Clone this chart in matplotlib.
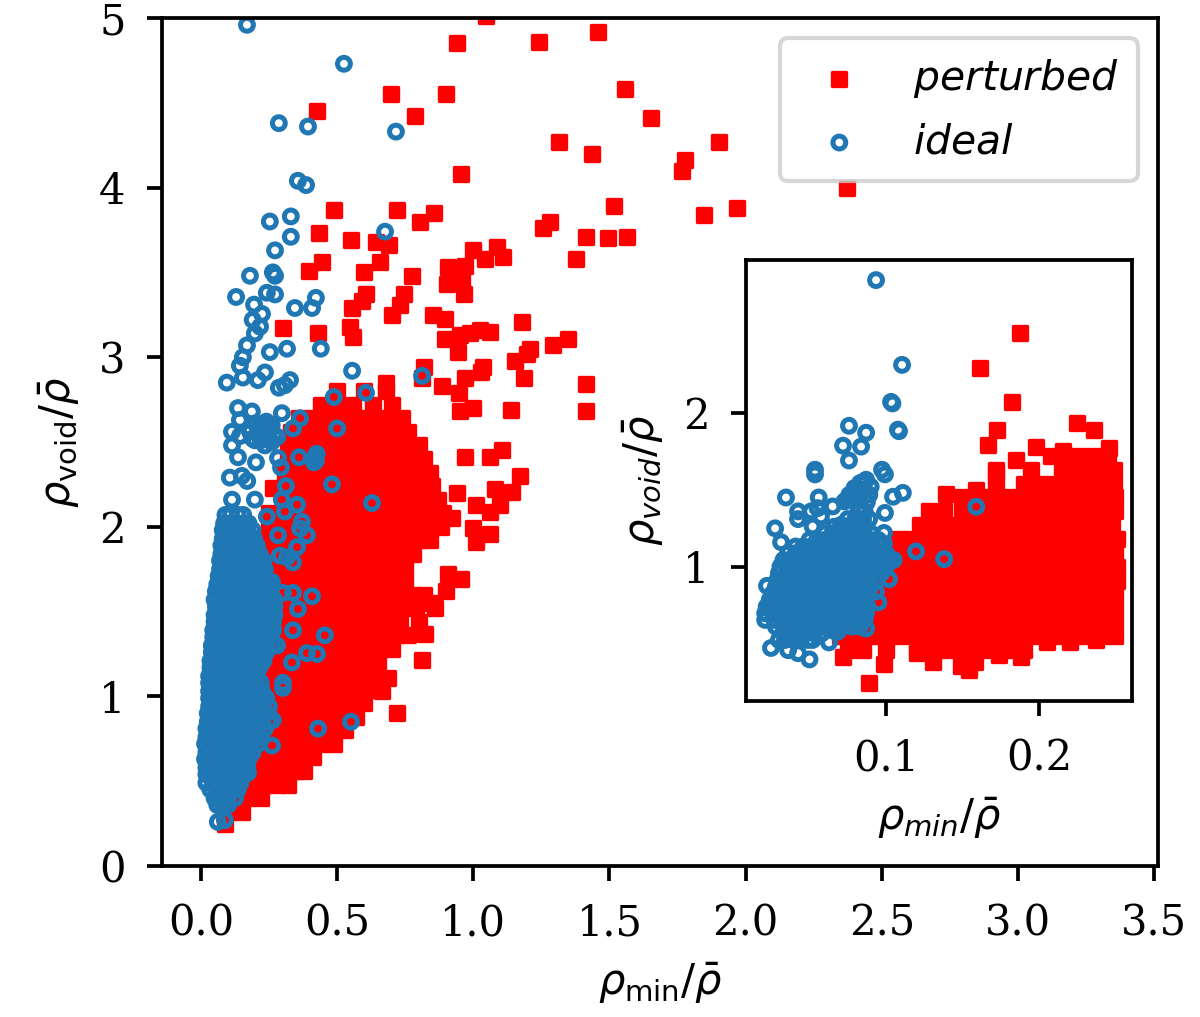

# Void density against minimum density, perturbed and ideal samples, with inset
import matplotlib
matplotlib.use('Agg')
import matplotlib.pyplot as plt

# Main panel, isolated perturbed points
main_red_x = [0.426, 0.698, 0.786, 0.90, 0.94, 1.047, 1.241, 1.458, 1.557, 1.653, 1.315, 1.436, 1.902, 1.777, 1.766,
              0.955, 2.372, 1.847, 1.968, 1.517, 1.495, 1.564, 1.414, 1.282, 1.256, 1.377, 0.488, 0.72, 0.856, 0.804,
              0.433, 0.551, 0.643, 0.69, 0.657, 0.775, 0.444, 0.397, 0.60, 0.606, 0.591, 0.555, 0.746, 0.731, 0.70,
              0.301, 0.43, 0.547, 0.558, 1.0, 1.087, 0.97, 0.907, 1.043, 1.109, 0.903, 0.959, 0.966, 0.852, 0.896,
              1.179, 1.348, 1.293, 1.208, 1.197, 1.153, 1.186, 1.414, 1.414, 1.138, 1.025, 1.061, 0.988, 0.95, 0.896,
              0.944, 0.819, 0.812, 0.885, 1.036, 1.028, 0.97, 0.947, 0.679, 0.951, 1.0, 1.105, 1.061, 0.97, 1.171,
              1.08, 1.142, 1.098, 1.01, 1.061, 1.0, 1.06, 1.01, 0.907, 0.955, 0.90, 0.848, 0.812, 0.823, 0.72, 0.687,
              0.665, 0.264, 0.94, 0.92]
main_red_y = [4.45, 4.55, 4.42, 4.55, 4.85, 5.01, 4.86, 4.92, 4.58, 4.41, 4.27, 4.20, 4.27, 4.16, 4.10,
              4.08, 4.00, 3.84, 3.88, 3.89, 3.70, 3.71, 3.71, 3.80, 3.76, 3.58, 3.87, 3.87, 3.85, 3.80,
              3.73, 3.69, 3.68, 3.66, 3.56, 3.48, 3.56, 3.51, 3.50, 3.37, 3.33, 3.29, 3.37, 3.31, 3.25,
              3.17, 3.14, 3.18, 3.12, 3.63, 3.65, 3.54, 3.53, 3.58, 3.59, 3.43, 3.45, 3.37, 3.25, 3.225,
              3.21, 3.11, 3.07, 3.05, 3.02, 2.98, 2.88, 2.84, 2.68, 2.69, 3.16, 3.15, 3.14, 3.13, 3.11,
              3.03, 2.94, 2.88, 2.83, 2.94, 2.91, 2.88, 2.79, 2.85, 2.68, 2.70, 2.45, 2.41, 2.41, 2.30,
              2.22, 2.205, 2.13, 2.13, 2.09, 1.99, 1.96, 1.91, 1.72, 1.69, 1.62, 1.55, 1.215, 1.37, 0.90, 1.11,
              1.03, 2.23, 2.20, 2.05]

# Main panel, solid perturbed region read row by row
main_red_rows_y = [0.25, 0.32, 0.40, 0.48, 0.56, 0.64, 0.72, 0.80, 0.88, 0.96, 1.04, 1.12, 1.20, 1.28, 1.36, 1.44,
                   1.52, 1.60, 1.68, 1.76, 1.84, 1.92, 2.00, 2.08, 2.16, 2.24, 2.32, 2.40, 2.48, 2.56, 2.64, 2.72, 2.80]
main_red_rows_x = [
    [0.09],
    [0.10, 0.15],
    [0.11, 0.17, 0.22],
    [0.12, 0.18, 0.23, 0.28, 0.32],
    [0.15, 0.20, 0.25, 0.30, 0.35, 0.38],
    [0.17, 0.22, 0.27, 0.32, 0.37, 0.41],
    [0.18, 0.24, 0.29, 0.34, 0.39, 0.44, 0.49],
    [0.20, 0.25, 0.31, 0.36, 0.41, 0.46, 0.50, 0.53],
    [0.20, 0.26, 0.31, 0.37, 0.42, 0.47, 0.52, 0.57],
    [0.21, 0.26, 0.32, 0.37, 0.43, 0.48, 0.54, 0.60],
    [0.21, 0.27, 0.32, 0.38, 0.43, 0.49, 0.55, 0.61],
    [0.22, 0.27, 0.33, 0.38, 0.44, 0.49, 0.55, 0.60, 0.63],
    [0.22, 0.28, 0.33, 0.39, 0.44, 0.50, 0.55, 0.61, 0.65],
    [0.22, 0.28, 0.34, 0.39, 0.45, 0.50, 0.56, 0.61, 0.66, 0.70],
    [0.23, 0.28, 0.34, 0.40, 0.45, 0.51, 0.56, 0.62, 0.67, 0.72, 0.76],
    [0.23, 0.29, 0.34, 0.40, 0.45, 0.51, 0.56, 0.62, 0.67, 0.73, 0.80],
    [0.23, 0.29, 0.34, 0.40, 0.46, 0.51, 0.57, 0.62, 0.68, 0.73, 0.79, 0.86],
    [0.23, 0.29, 0.35, 0.40, 0.46, 0.51, 0.57, 0.62, 0.68, 0.73, 0.78, 0.82],
    [0.24, 0.29, 0.35, 0.40, 0.46, 0.51, 0.57, 0.62, 0.68, 0.72, 0.75],
    [0.24, 0.29, 0.35, 0.41, 0.46, 0.52, 0.57, 0.63, 0.68, 0.72, 0.75],
    [0.24, 0.30, 0.35, 0.41, 0.46, 0.52, 0.57, 0.63, 0.68, 0.74, 0.78],
    [0.24, 0.30, 0.36, 0.41, 0.47, 0.52, 0.58, 0.63, 0.69, 0.74, 0.80, 0.84],
    [0.25, 0.30, 0.36, 0.41, 0.47, 0.52, 0.58, 0.63, 0.69, 0.74, 0.80, 0.85, 0.88],
    [0.25, 0.30, 0.36, 0.42, 0.47, 0.53, 0.58, 0.64, 0.69, 0.75, 0.80, 0.85, 0.89],
    [0.30, 0.36, 0.42, 0.47, 0.53, 0.58, 0.64, 0.69, 0.75, 0.80, 0.84, 0.87],
    [0.31, 0.36, 0.42, 0.47, 0.53, 0.58, 0.64, 0.69, 0.75, 0.80, 0.85],
    [0.31, 0.37, 0.42, 0.48, 0.53, 0.59, 0.64, 0.70, 0.75, 0.80, 0.84],
    [0.32, 0.37, 0.43, 0.48, 0.54, 0.59, 0.65, 0.70, 0.76, 0.82],
    [0.32, 0.38, 0.43, 0.49, 0.54, 0.60, 0.65, 0.71, 0.76, 0.80],
    [0.33, 0.38, 0.44, 0.49, 0.55, 0.60, 0.66, 0.71, 0.76],
    [0.36, 0.41, 0.47, 0.52, 0.58, 0.63, 0.69, 0.74],
    [0.44, 0.50, 0.56, 0.63, 0.70],
    [0.50, 0.60, 0.68],
]

# Main panel, isolated ideal points
main_blue_x = [0.169, 0.525, 0.286, 0.393, 0.716, 0.356, 0.386, 0.253, 0.33, 0.33, 0.676, 0.272, 0.18, 0.264, 0.272,
               0.242, 0.272, 0.129, 0.422, 0.408, 0.345, 0.195, 0.224, 0.19, 0.217, 0.198, 0.169, 0.154, 0.253, 0.316,
               0.44, 0.555, 0.143, 0.095, 0.154, 0.209, 0.235, 0.286, 0.327, 0.308, 0.812, 0.606, 0.488, 0.136, 0.187,
               0.143, 0.114, 0.143, 0.114, 0.217, 0.253, 0.198, 0.235, 0.297, 0.364, 0.338, 0.5, 0.36, 0.419, 0.422,
               0.415, 0.425, 0.481, 0.628, 0.106, 0.136, 0.202, 0.283, 0.294, 0.312, 0.114, 0.198, 0.242, 0.297, 0.353,
               0.308, 0.371, 0.364, 0.389, 0.283, 0.353, 0.29, 0.338, 0.316, 0.261, 0.338, 0.408, 0.356, 0.301, 0.338,
               0.253, 0.455, 0.389, 0.426, 0.334, 0.279, 0.301, 0.301, 0.43, 0.551, 0.261, 0.264, 0.173, 0.062, 0.088,
               0.20, 0.22, 0.24, 0.26, 0.18, 0.21, 0.23, 0.25, 0.27, 0.19, 0.22, 0.24, 0.26, 0.28, 0.15, 0.17]
main_blue_y = [4.96, 4.73, 4.38, 4.36, 4.33, 4.04, 4.015, 3.80, 3.83, 3.71, 3.74, 3.63, 3.48, 3.50, 3.48,
               3.38, 3.37, 3.355, 3.35, 3.29, 3.29, 3.31, 3.255, 3.22, 3.18, 3.14, 3.07, 3.00, 3.03, 3.05,
               3.05, 2.92, 2.95, 2.85, 2.88, 2.865, 2.91, 2.82, 2.865, 2.835, 2.89, 2.79, 2.765, 2.70, 2.68,
               2.63, 2.56, 2.535, 2.48, 2.60, 2.57, 2.51, 2.48, 2.67, 2.64, 2.58, 2.58, 2.41, 2.41, 2.39,
               2.38, 2.43, 2.25, 2.14, 2.29, 2.41, 2.38, 2.405, 2.35, 2.24, 2.16, 2.16, 2.06, 2.16, 2.13,
               2.09, 2.03, 1.99, 1.95, 1.95, 1.88, 1.83, 1.79, 1.82, 1.675, 1.61, 1.59, 1.515, 1.61, 1.39,
               1.41, 1.36, 1.255, 1.25, 1.20, 1.30, 1.08, 1.05, 0.81, 0.85, 0.71, 0.86, 0.55, 0.26, 0.27,
               2.61, 2.60, 2.62, 2.60, 2.56, 2.56, 2.55, 2.56, 2.54, 2.52, 2.51, 2.52, 2.50, 2.53, 2.30, 2.27]

# Main panel, solid ideal region read row by row
main_blue_rows_y = [0.36, 0.40, 0.45, 0.49, 0.54, 0.58, 0.63, 0.67, 0.72, 0.76, 0.81, 0.85, 0.90, 0.94, 0.99, 1.03,
                    1.08, 1.12, 1.17, 1.21, 1.26, 1.30, 1.35, 1.39, 1.44, 1.48, 1.53, 1.57, 1.62, 1.66, 1.71, 1.75,
                    1.80, 1.84, 1.89, 1.93, 1.98, 2.02, 2.07]
main_blue_rows_x = [
    [0.06, 0.08, 0.10],
    [0.05, 0.075, 0.10, 0.125],
    [0.035, 0.06, 0.085, 0.11, 0.135],
    [0.02, 0.045, 0.07, 0.095, 0.12, 0.145],
    [0.02, 0.035, 0.06, 0.085, 0.11, 0.135, 0.16],
    [0.02, 0.045, 0.07, 0.095, 0.12, 0.15, 0.17],
    [0.015, 0.035, 0.06, 0.085, 0.11, 0.135, 0.16, 0.175],
    [0.02, 0.045, 0.07, 0.095, 0.12, 0.145, 0.17, 0.19],
    [0.015, 0.035, 0.06, 0.085, 0.11, 0.135, 0.16, 0.185, 0.21],
    [0.02, 0.045, 0.07, 0.095, 0.12, 0.145, 0.17, 0.195, 0.22],
    [0.02, 0.035, 0.06, 0.085, 0.11, 0.135, 0.16, 0.185, 0.21, 0.235],
    [0.025, 0.05, 0.075, 0.10, 0.125, 0.15, 0.175, 0.20, 0.225, 0.25],
    [0.025, 0.04, 0.065, 0.09, 0.115, 0.14, 0.165, 0.19, 0.215, 0.24],
    [0.03, 0.05, 0.075, 0.10, 0.125, 0.15, 0.175, 0.20, 0.225, 0.25],
    [0.03, 0.045, 0.07, 0.095, 0.12, 0.145, 0.17, 0.195, 0.22, 0.24],
    [0.03, 0.055, 0.08, 0.105, 0.13, 0.155, 0.18, 0.205, 0.225],
    [0.03, 0.05, 0.075, 0.10, 0.125, 0.15, 0.175, 0.20, 0.22],
    [0.03, 0.055, 0.08, 0.105, 0.13, 0.155, 0.18, 0.205],
    [0.035, 0.05, 0.075, 0.10, 0.125, 0.15, 0.175, 0.20, 0.215],
    [0.035, 0.06, 0.085, 0.11, 0.135, 0.16, 0.185, 0.21, 0.23],
    [0.04, 0.055, 0.08, 0.105, 0.13, 0.155, 0.18, 0.205, 0.23, 0.24],
    [0.04, 0.065, 0.09, 0.115, 0.14, 0.165, 0.19, 0.215, 0.24, 0.26],
    [0.045, 0.06, 0.085, 0.11, 0.135, 0.16, 0.185, 0.21, 0.235, 0.255],
    [0.045, 0.07, 0.095, 0.12, 0.145, 0.17, 0.195, 0.22, 0.245, 0.265],
    [0.05, 0.065, 0.09, 0.115, 0.14, 0.165, 0.19, 0.215, 0.24, 0.265],
    [0.05, 0.075, 0.10, 0.125, 0.15, 0.175, 0.20, 0.225, 0.25, 0.27],
    [0.055, 0.07, 0.095, 0.12, 0.145, 0.17, 0.195, 0.22, 0.245, 0.27],
    [0.05, 0.08, 0.105, 0.13, 0.155, 0.18, 0.205, 0.23, 0.255, 0.27],
    [0.055, 0.075, 0.10, 0.125, 0.15, 0.175, 0.20, 0.225, 0.25],
    [0.06, 0.085, 0.11, 0.135, 0.16, 0.185, 0.21, 0.235, 0.25],
    [0.065, 0.08, 0.105, 0.13, 0.155, 0.18, 0.205, 0.23],
    [0.07, 0.09, 0.115, 0.14, 0.165, 0.19, 0.215, 0.235],
    [0.07, 0.085, 0.11, 0.135, 0.16, 0.185, 0.21, 0.23],
    [0.075, 0.095, 0.12, 0.145, 0.17, 0.195, 0.215],
    [0.075, 0.09, 0.115, 0.14, 0.165, 0.19, 0.205],
    [0.08, 0.10, 0.125, 0.15, 0.175, 0.195],
    [0.08, 0.095, 0.12, 0.145, 0.17, 0.19],
    [0.085, 0.105, 0.13, 0.155, 0.175],
    [0.09, 0.11, 0.135, 0.155],
]

# Inset, isolated perturbed points
inset_red_x = [0.089, 0.099, 0.072, 0.12, 0.131, 0.149, 0.154, 0.158, 0.174, 0.188, 0.205, 0.22, 0.237, 0.1876,
               0.1614, 0.1824, 0.1725, 0.1667, 0.2248, 0.236, 0.2457, 0.216, 0.198, 0.185, 0.172, 0.159, 0.139]
inset_red_y = [0.25, 0.37, 0.415, 0.44, 0.38, 0.36, 0.33, 0.38, 0.43, 0.415, 0.51, 0.51, 0.525, 2.52,
               2.29, 2.07, 1.89, 1.79, 1.93, 1.89, 1.77, 1.75, 1.78, 1.69, 1.61, 1.50, 1.47]

# Inset, solid perturbed region read row by row
inset_red_rows_y = [0.46, 0.55, 0.64, 0.73, 0.82, 0.91, 1.00, 1.09, 1.18, 1.27, 1.36, 1.45, 1.54, 1.63, 1.72]
inset_red_rows_x = [
    [0.075, 0.085, 0.10, 0.12, 0.13, 0.14, 0.15, 0.16, 0.17, 0.18, 0.19],
    [0.07, 0.079, 0.088, 0.097, 0.106, 0.115, 0.124, 0.133, 0.142, 0.151, 0.16, 0.169, 0.178, 0.187, 0.196, 0.205, 0.214, 0.223, 0.232, 0.241, 0.25],
    [0.07, 0.079, 0.088, 0.097, 0.106, 0.115, 0.124, 0.133, 0.142, 0.151, 0.16, 0.169, 0.178, 0.187, 0.196, 0.205, 0.214, 0.223, 0.232, 0.241, 0.25],
    [0.075, 0.084, 0.093, 0.102, 0.111, 0.12, 0.129, 0.138, 0.147, 0.156, 0.165, 0.174, 0.183, 0.192, 0.201, 0.21, 0.219, 0.228, 0.237, 0.246, 0.25],
    [0.08, 0.089, 0.098, 0.107, 0.116, 0.125, 0.134, 0.143, 0.152, 0.161, 0.17, 0.179, 0.188, 0.197, 0.206, 0.215, 0.224, 0.233, 0.242, 0.25],
    [0.085, 0.094, 0.103, 0.112, 0.121, 0.13, 0.139, 0.148, 0.157, 0.166, 0.175, 0.184, 0.193, 0.202, 0.211, 0.22, 0.229, 0.238, 0.247, 0.251],
    [0.09, 0.099, 0.108, 0.117, 0.126, 0.135, 0.144, 0.153, 0.162, 0.171, 0.18, 0.189, 0.198, 0.207, 0.216, 0.225, 0.234, 0.243, 0.251],
    [0.105, 0.114, 0.123, 0.132, 0.141, 0.15, 0.159, 0.168, 0.177, 0.186, 0.195, 0.204, 0.213, 0.222, 0.231, 0.24, 0.25],
    [0.107, 0.116, 0.125, 0.134, 0.143, 0.152, 0.161, 0.17, 0.179, 0.188, 0.197, 0.206, 0.215, 0.224, 0.233, 0.242, 0.251],
    [0.122, 0.131, 0.14, 0.149, 0.158, 0.167, 0.176, 0.185, 0.194, 0.203, 0.212, 0.221, 0.23, 0.239, 0.248],
    [0.128, 0.138, 0.15, 0.16, 0.169, 0.178, 0.187, 0.196, 0.205, 0.214, 0.223, 0.232, 0.241, 0.25],
    [0.15, 0.163, 0.172, 0.181, 0.19, 0.199, 0.208, 0.217, 0.226, 0.235, 0.244, 0.25],
    [0.172, 0.19, 0.199, 0.208, 0.217, 0.226, 0.235, 0.244, 0.249],
    [0.172, 0.195, 0.215, 0.224, 0.233, 0.242, 0.249],
    [0.208, 0.218, 0.227, 0.236, 0.245],
]

# Inset, isolated ideal points
inset_blue_x = [0.0935, 0.1105, 0.1033, 0.1042, 0.1078, 0.0758, 0.087, 0.0719, 0.0837, 0.0758, 0.0536, 0.0536, 0.0346,
                0.056, 0.0425, 0.0425, 0.0275, 0.0314, 0.0222, 0.0248, 0.036, 0.05, 0.0425, 0.03, 0.1085, 0.111,
                0.1046, 0.0974, 0.0993, 0.0993, 0.0987, 0.0987, 0.1196, 0.138, 0.159, 0.102, 0.105, 0.0935, 0.095,
                0.087, 0.0686, 0.0627, 0.083, 0.0794, 0.0761, 0.0728, 0.0651, 0.0553, 0.051, 0.0575, 0.052, 0.0706,
                0.0826, 0.0891, 0.0848, 0.087, 0.0848, 0.081, 0.078, 0.075, 0.0875, 0.090]
inset_blue_y = [2.86, 2.31, 2.07, 2.06, 1.89, 1.915, 1.87, 1.786, 1.78, 1.69, 1.63, 1.60, 1.45,
                1.45, 1.36, 1.31, 1.25, 1.16, 0.877, 0.474, 0.46, 0.40, 0.44, 0.526, 1.88, 1.48,
                1.455, 1.63, 1.60, 1.35, 1.22, 1.15, 1.10, 1.05, 1.39, 0.92, 1.045, 0.84, 0.77,
                0.60, 0.58, 0.51, 1.543, 1.511, 1.468, 1.424, 1.392, 1.381, 1.36, 1.327, 1.262, 1.273,
                1.381, 1.468, 1.50, 1.565, 1.55, 1.50, 1.47, 1.44, 1.42, 1.52]

# Inset, solid ideal region read row by row
inset_blue_rows_y = [1.36, 1.31, 1.26, 1.218, 1.175, 1.132, 1.088, 1.045, 1.002, 0.959, 0.916, 0.872, 0.829, 0.786,
                     0.742, 0.699, 0.656, 0.613, 0.569, 0.526]
inset_blue_rows_x = [
    [0.082, 0.086],
    [0.075, 0.080, 0.085, 0.089],
    [0.066, 0.071, 0.076, 0.081, 0.086],
    [0.060, 0.065, 0.070, 0.075, 0.080, 0.085, 0.090],
    [0.050, 0.055, 0.060, 0.065, 0.070, 0.075, 0.080, 0.085, 0.090, 0.095],
    [0.041, 0.046, 0.051, 0.056, 0.061, 0.066, 0.071, 0.076, 0.081, 0.086, 0.091, 0.097],
    [0.036, 0.041, 0.046, 0.051, 0.056, 0.061, 0.066, 0.071, 0.076, 0.081, 0.086, 0.091, 0.096, 0.100],
    [0.033, 0.038, 0.043, 0.048, 0.053, 0.058, 0.063, 0.068, 0.073, 0.078, 0.083, 0.088, 0.093, 0.098, 0.102],
    [0.031, 0.036, 0.041, 0.046, 0.051, 0.056, 0.061, 0.066, 0.071, 0.076, 0.081, 0.086, 0.091, 0.096, 0.100],
    [0.030, 0.035, 0.040, 0.045, 0.050, 0.055, 0.060, 0.065, 0.070, 0.075, 0.080, 0.085, 0.090, 0.095, 0.097],
    [0.029, 0.033, 0.038, 0.043, 0.048, 0.053, 0.058, 0.063, 0.068, 0.073, 0.078, 0.083, 0.088, 0.094],
    [0.028, 0.032, 0.037, 0.042, 0.047, 0.052, 0.057, 0.062, 0.067, 0.072, 0.077, 0.082, 0.087, 0.090],
    [0.026, 0.030, 0.034, 0.038, 0.043, 0.048, 0.053, 0.058, 0.063, 0.068, 0.073, 0.078, 0.083, 0.088],
    [0.024, 0.028, 0.032, 0.036, 0.040, 0.045, 0.050, 0.055, 0.060, 0.065, 0.070, 0.075, 0.080, 0.086],
    [0.022, 0.026, 0.030, 0.034, 0.038, 0.043, 0.048, 0.053, 0.058, 0.063, 0.068, 0.073, 0.078, 0.084, 0.088],
    [0.021, 0.026, 0.031, 0.036, 0.041, 0.046, 0.051, 0.056, 0.061, 0.066, 0.071, 0.076, 0.082, 0.087],
    [0.021, 0.027, 0.032, 0.037, 0.042, 0.047, 0.052, 0.057, 0.062, 0.067, 0.072, 0.078, 0.083, 0.086],
    [0.028, 0.033, 0.038, 0.043, 0.048, 0.053, 0.058, 0.063, 0.068, 0.072, 0.078, 0.083],
    [0.033, 0.038, 0.043, 0.048, 0.053, 0.058],
    [0.034, 0.039, 0.044, 0.049, 0.052],
]

# Ticks
main_xticks = [0.0, 0.5, 1.0, 1.5, 2.0, 2.5, 3.0, 3.5]
main_yticks = [0, 1, 2, 3, 4, 5]
inset_xticks = [0.1, 0.2]
inset_yticks = [1, 2]


def flatten(rows_y, rows_x):
    xs = [x for row in rows_x for x in row]
    ys = [y for y, row in zip(rows_y, rows_x) for _ in row]
    return xs, ys


plt.rcParams['font.family'] = 'DejaVu Serif'
plt.rcParams['font.size'] = 10
plt.rcParams['mathtext.fontset'] = 'dejavusans'
plt.rcParams['xtick.major.pad'] = 5.2
plt.rcParams['ytick.major.pad'] = 5.2
plt.rcParams['axes.linewidth'] = 0.9
plt.rcParams['xtick.major.width'] = 0.9
plt.rcParams['ytick.major.width'] = 0.9

fig = plt.figure(figsize=(4, 3.39), dpi=300)

# Main panel
ax = fig.add_axes([0.135, 0.1485, 0.83, 0.8338])
x_fill, y_fill = flatten(main_red_rows_y, main_red_rows_x)
ax.scatter(x_fill + main_red_x, y_fill + main_red_y, s=11, marker='s', c='red', linewidths=0.8,
           label=r'$\mathit{perturbed}$')
x_fill, y_fill = flatten(main_blue_rows_y, main_blue_rows_x)
ax.scatter(x_fill + main_blue_x, y_fill + main_blue_y, s=9.5, marker='o', facecolors='none', edgecolors='C0',
           linewidths=1.2, label=r'$\mathit{ideal}$')
ax.set_xlim(-0.143, 3.514)
ax.set_ylim(0, 5)
ax.set_xticks(main_xticks)
ax.set_yticks(main_yticks)
ax.set_xlabel(r'$\rho_{\mathrm{min}}/\bar{\rho}$')
ax.set_ylabel(r'$\rho_{\mathrm{void}}/\bar{\rho}$')
ax.legend(loc='upper right', prop={'family': 'DejaVu Sans', 'size': 9.8}, labelspacing=0.54, borderpad=0.46)

# Inset
axins = fig.add_axes([0.6217, 0.3107, 0.3216, 0.4336])
x_fill, y_fill = flatten(inset_red_rows_y, inset_red_rows_x)
axins.scatter(x_fill + inset_red_x, y_fill + inset_red_y, s=11, marker='s', c='red', linewidths=0.8)
x_fill, y_fill = flatten(inset_blue_rows_y, inset_blue_rows_x)
axins.scatter(x_fill + inset_blue_x, y_fill + inset_blue_y, s=9.5, marker='o', facecolors='none', edgecolors='C0',
              linewidths=1.2)
axins.set_xlim(0.0085, 0.2608)
axins.set_ylim(0.13, 2.99)
axins.set_xticks(inset_xticks)
axins.set_yticks(inset_yticks)
axins.set_xlabel(r'$\rho_{min}/\bar{\rho}$')
axins.set_ylabel(r'$\rho_{void}/\bar{\rho}$')

fig.savefig('out.png', dpi=300)
